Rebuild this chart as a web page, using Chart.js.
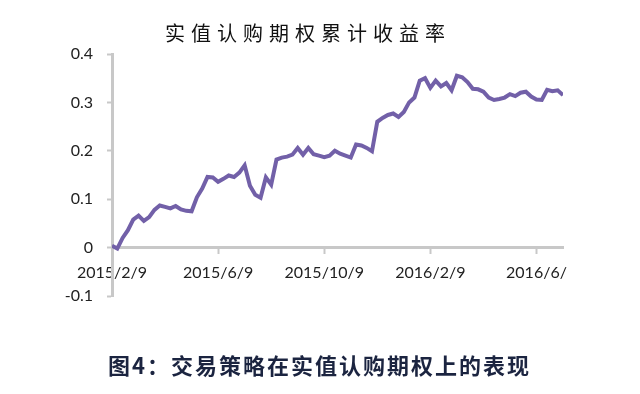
<!DOCTYPE html>
<html>
<head>
<meta charset="utf-8">
<script src="https://cdn.jsdelivr.net/npm/chart.js@4/dist/chart.umd.min.js"></script>
<style>
  body { margin: 0; background: #fff; }
  #wrap { position: relative; width: 640px; height: 394px; }
  #title { position: absolute; left: 0; width: 616px; top: 18px; text-align: center;
    font-family: "Noto Sans CJK SC"; font-size: 20px; letter-spacing: 6px; color: #111; }
  #caption { position: absolute; left: 108px; top: 348px;
    font-family: "Noto Sans CJK SC"; font-weight: bold; font-size: 22px; color: #1b2440; letter-spacing: 2px; }
</style>
</head>
<body>
<div id="wrap">
  <canvas id="line-chart" width="640" height="394"></canvas>
  <div id="title">实值认购期权累计收益率</div>
  <div id="caption">图4：交易策略在实值认购期权上的表现</div>
</div>
<script>
// one point every 4 trading days, starting 2015/2/9
var returns = [
  0.004, -0.002, 0.020, 0.036, 0.058, 0.066, 0.055, 0.063, 0.078, 0.087,
  0.084, 0.081, 0.086, 0.079, 0.076, 0.075, 0.104, 0.122, 0.146, 0.145,
  0.136, 0.142, 0.149, 0.146, 0.155, 0.170, 0.128, 0.109, 0.103, 0.145,
  0.130, 0.182, 0.186, 0.188, 0.192, 0.206, 0.192, 0.206, 0.193, 0.190,
  0.187, 0.190, 0.200, 0.194, 0.190, 0.186, 0.213, 0.211, 0.206, 0.199,
  0.260, 0.268, 0.274, 0.277, 0.270, 0.280, 0.300, 0.310, 0.345, 0.350,
  0.330, 0.345, 0.333, 0.340, 0.325, 0.355, 0.352, 0.342, 0.328, 0.327,
  0.322, 0.310, 0.305, 0.307, 0.310, 0.317, 0.313, 0.320, 0.322, 0.312,
  0.306, 0.305, 0.326, 0.323, 0.325, 0.315
];
var tickPositions = [0, 20, 40, 60, 80];
var tickLabels = ['2015/2/9', '2015/6/9', '2015/10/9', '2016/2/9', '2016/6/'];

var points = returns.map(function (v, i) { return { x: i, y: v }; });
var tickFont = { family: 'Lato', size: 16 };

new Chart(document.getElementById("line-chart"), {
  type: 'line',
  data: {
    datasets: [{
      data: points,
      borderColor: '#7260a8',
      borderWidth: 4,
      pointRadius: 0,
      tension: 0,
      fill: false
    }]
  },
  options: {
    responsive: false,
    animation: false,
    layout: { padding: { left: 60, right: 77, top: 54, bottom: 98 } },
    plugins: { legend: { display: false }, tooltip: { enabled: false } },
    scales: {
      x: {
        type: 'linear',
        position: { y: 0 },
        min: 0,
        max: returns.length - 1,
        afterBuildTicks: function (scale) {
          scale.ticks = tickPositions.map(function (p) { return { value: p }; });
        },
        ticks: {
          autoSkip: false,
          maxRotation: 0,
          color: '#222',
          font: tickFont,
          padding: 11,
          callback: function (value) {
            return tickLabels[tickPositions.indexOf(value)];
          }
        },
        grid: { drawOnChartArea: false, tickLength: 5, tickColor: '#c8c8c8', tickWidth: 2 },
        border: { color: '#c8c8c8', width: 3 }
      },
      y: {
        min: -0.1,
        max: 0.4,
        afterFit: function (scale) { scale.width = 52; },
        ticks: {
          stepSize: 0.1,
          color: '#222',
          font: tickFont,
          padding: 14,
          callback: function (value) {
            var v = Math.round(value * 10) / 10;
            return v === 0 ? '0' : v.toFixed(1);
          }
        },
        grid: { drawOnChartArea: false, tickLength: 5, tickColor: '#c8c8c8', tickWidth: 2 },
        border: { color: '#c8c8c8', width: 3 }
      }
    }
  }
});
</script>
</body>
</html>
